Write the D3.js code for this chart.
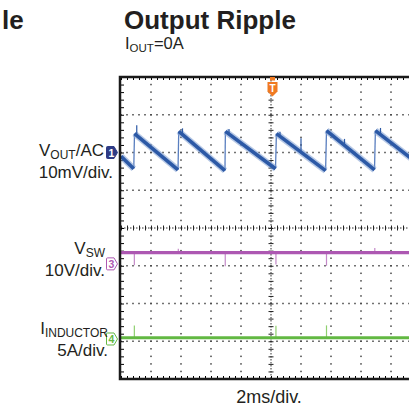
<!DOCTYPE html>
<html>
<head>
<meta charset="utf-8">
<script src="https://cdn.jsdelivr.net/npm/d3@7"></script>
<style>
  body { margin: 0; background: #fff; }
  text { font-family: "Liberation Sans", Arial, sans-serif; fill: #231f20; }
</style>
</head>
<body>
<div id="scope"></div>
<script>
var voutT = [0, 0.85, 0.9, 3.8, 3.85, 6.93, 6.96, 10.3, 10.36, 13.64, 13.7, 16.9, 16.96, 20];
var voutV = [-1.0, -4.3, 5.0, -4.6, 5.6, -4.8, 5.6, -4.3, 5.0, -4.8, 5.8, -4.6, 5.8, -3.6];
// picos de ruido de VOUT (mV)
var voutSpikeT = [1.05, 4.1, 7.2, 10.6, 12.0, 14.9, 17.3];
var voutSpikeV = [7.2, 6.4, 6.2, 5.5, 3.8, 3.6, 6.5];

var vswLevel = 3.0; // V
var vswSpikeT = [0.89, 3.82, 6.95, 10.33, 13.7, 16.92];
var vswSpikeV = [-0.4, 4.0, -0.6, -0.2, -0.5, 4.2];

var ilLevel = 0.15; // A
var ilSpikeT = [0.89, 10.33, 13.7];
var ilSpikeV = [1.8, 1.75, 1.8];

// offset de cada canal en divisiones y escala por division
var canales = [
  { id: "1", offset: 2.0, escala: 10, color: "#2c59a6", relleno: "#2e3b85" },
  { id: "3", offset: -0.95, escala: 10, color: "#ad58b2", relleno: null },
  { id: "4", offset: -2.94, escala: 5, color: "#62b842", relleno: null }
];

var width = 409, height = 407;
var svg = d3.select("#scope").append("svg")
    .attr("width", width)
    .attr("height", height);

// Escalas: 10 divisiones horizontales (se ve hasta ~9.6), 8 verticales
var x = d3.scaleLinear().domain([0, 20]).range([121, 421]);
var yDiv = d3.scaleLinear().domain([-4, 4]).range([379, 77]);

function yCanal(c, v) { return yDiv(c.offset + v / c.escala); }

// Titulos
svg.append("text").attr("x", 2).attr("y", 29)
    .style("font-size", "26px").style("font-weight", "bold").text("le");
svg.append("text").attr("x", 124).attr("y", 29)
    .style("font-size", "26px").style("font-weight", "bold").text("Output Ripple");
var sub = svg.append("text").attr("x", 125).attr("y", 49).style("font-size", "16.5px");
sub.append("tspan").text("I");
sub.append("tspan").attr("dy", 3).style("font-size", "11.5px").text("OUT");
sub.append("tspan").attr("dy", -3).text("=0A");

// Grid punteado
var grid = svg.append("g");
d3.range(1, 10).filter(function (i) { return i !== 5; }).forEach(function (i) {
  grid.selectAll(null)
    .data(d3.range(-4, 4.01, 0.2))
    .enter().append("rect")
    .attr("x", x(i * 2) - 0.75).attr("y", function (d) { return yDiv(d) - 0.75; })
    .attr("width", 1.5).attr("height", 1.5).attr("fill", "#444");
});
[-3, -2, -1, 1, 2, 3].forEach(function (j) {
  grid.selectAll(null)
    .data(d3.range(0, 20.01, 0.4))
    .enter().append("rect")
    .attr("x", function (d) { return x(d) - 0.75; }).attr("y", yDiv(j) - 0.75)
    .attr("width", 1.5).attr("height", 1.5).attr("fill", "#444");
});

// Ejes centrales con marcas
grid.append("line")
    .attr("x1", x(10)).attr("x2", x(10)).attr("y1", yDiv(4)).attr("y2", yDiv(-4))
    .attr("stroke", "#333").attr("stroke-width", 1).attr("stroke-dasharray", "1.5,1.5");
grid.append("line")
    .attr("x1", x(0)).attr("x2", width).attr("y1", yDiv(0)).attr("y2", yDiv(0))
    .attr("stroke", "#333").attr("stroke-width", 1).attr("stroke-dasharray", "1.5,1.5");
grid.append("g").attr("transform", "translate(" + (x(10) - 2.5) + ",0)")
    .call(d3.axisRight(yDiv).tickValues(d3.range(-4, 4.01, 0.2)).tickSize(5).tickFormat(""))
    .call(function (g) { g.select(".domain").remove(); })
    .selectAll("line").attr("stroke", "#222");
grid.append("g").attr("transform", "translate(0," + (yDiv(0) - 2.5) + ")")
    .call(d3.axisBottom(x).tickValues(d3.range(0, 20.01, 0.4)).tickSize(5).tickFormat(""))
    .call(function (g) { g.select(".domain").remove(); })
    .selectAll("line").attr("stroke", "#222");

// Marcas menores en los bordes
svg.append("g").attr("transform", "translate(" + x(0) + ",0)")
    .call(d3.axisRight(yDiv).tickValues(d3.range(-4, 4.01, 0.2)).tickSize(3).tickFormat(""))
    .call(function (g) { g.select(".domain").remove(); });
svg.append("g").attr("transform", "translate(0," + yDiv(-4) + ")")
    .call(d3.axisTop(x).tickValues(d3.range(0, 20.01, 0.4)).tickSize(3).tickFormat(""))
    .call(function (g) { g.select(".domain").remove(); });
svg.append("g").attr("transform", "translate(0," + yDiv(4) + ")")
    .call(d3.axisBottom(x).tickValues(d3.range(0, 20.01, 0.4)).tickSize(3).tickFormat(""))
    .call(function (g) { g.select(".domain").remove(); });

// Clip del area de trazas
svg.append("clipPath").attr("id", "clip")
    .append("rect").attr("x", x(0)).attr("y", yDiv(4)).attr("width", width - x(0)).attr("height", yDiv(-4) - yDiv(4));
var trazas = svg.append("g").attr("clip-path", "url(#clip)");

// VOUT (canal 1): rampas gruesas con ruido, saltos finos
var c1 = canales[0];
var tramos = d3.pairs(d3.range(voutT.length));
var rampas = tramos.filter(function (p) { return voutT[p[1]] - voutT[p[0]] > 0.2; });
var saltos = tramos.filter(function (p) { return voutT[p[1]] - voutT[p[0]] <= 0.2; });
trazas.selectAll(".salto")
    .data(saltos)
    .enter().append("line")
    .attr("class", "salto")
    .attr("x1", function (p) { return x(voutT[p[0]]); })
    .attr("x2", function (p) { return x(voutT[p[1]]); })
    .attr("y1", function (p) { return yCanal(c1, voutV[p[0]]); })
    .attr("y2", function (p) { return yCanal(c1, voutV[p[1]]); })
    .attr("stroke", "#5a7fc0").attr("stroke-width", 1.3);
trazas.selectAll(".rampaHalo")
    .data(rampas)
    .enter().append("line")
    .attr("class", "rampaHalo")
    .attr("x1", function (p) { return x(voutT[p[0]]); })
    .attr("x2", function (p) { return x(voutT[p[1]]); })
    .attr("y1", function (p) { return yCanal(c1, voutV[p[0]]); })
    .attr("y2", function (p) { return yCanal(c1, voutV[p[1]]); })
    .attr("stroke", "#86a3d4").attr("stroke-width", 6.5).attr("stroke-opacity", 0.6);
trazas.selectAll(".rampa")
    .data(rampas)
    .enter().append("line")
    .attr("class", "rampa")
    .attr("x1", function (p) { return x(voutT[p[0]]); })
    .attr("x2", function (p) { return x(voutT[p[1]]); })
    .attr("y1", function (p) { return yCanal(c1, voutV[p[0]]); })
    .attr("y2", function (p) { return yCanal(c1, voutV[p[1]]); })
    .attr("stroke", c1.color).attr("stroke-width", 3.6);
// picos de VOUT: se parte de la rampa interpolada
var rampa = d3.scaleLinear().domain(voutT).range(voutV);
trazas.selectAll(".picoVout")
    .data(voutSpikeT)
    .enter().append("line")
    .attr("class", "picoVout")
    .attr("x1", function (d) { return x(d); }).attr("x2", function (d) { return x(d); })
    .attr("y1", function (d) { return yCanal(c1, rampa(d)); })
    .attr("y2", function (d, i) { return yCanal(c1, voutSpikeV[i]); })
    .attr("stroke", c1.color).attr("stroke-width", 1.2);

// VSW (canal 3)
var c3 = canales[1];
trazas.selectAll(".picoVsw")
    .data(vswSpikeT)
    .enter().append("line")
    .attr("class", "picoVsw")
    .attr("x1", function (d) { return x(d); }).attr("x2", function (d) { return x(d); })
    .attr("y1", yCanal(c3, vswLevel))
    .attr("y2", function (d, i) { return yCanal(c3, vswSpikeV[i]); })
    .attr("stroke", "#c489c8").attr("stroke-width", 1.2);
trazas.append("line")
    .attr("x1", x(0)).attr("x2", x(20))
    .attr("y1", yCanal(c3, vswLevel)).attr("y2", yCanal(c3, vswLevel))
    .attr("stroke", c3.color).attr("stroke-width", 3.2);

// IINDUCTOR (canal 4)
var c4 = canales[2];
trazas.selectAll(".picoIl")
    .data(ilSpikeT)
    .enter().append("line")
    .attr("class", "picoIl")
    .attr("x1", function (d) { return x(d); }).attr("x2", function (d) { return x(d); })
    .attr("y1", yCanal(c4, ilLevel))
    .attr("y2", function (d, i) { return yCanal(c4, ilSpikeV[i]); })
    .attr("stroke", "#8fd06f").attr("stroke-width", 1.2);
trazas.append("line")
    .attr("x1", x(0)).attr("x2", x(20))
    .attr("y1", yCanal(c4, ilLevel)).attr("y2", yCanal(c4, ilLevel))
    .attr("stroke", c4.color).attr("stroke-width", 3);

// Borde
svg.append("path")
    .attr("d", "M" + width + "," + yDiv(4) + "H" + (x(0) - 1) + "V" + yDiv(-4) + "H" + width)
    .attr("fill", "none").attr("stroke", "#1a1a1a").attr("stroke-width", 2.5);

// Marcadores de canal
canales.forEach(function (c) {
  var yc = yDiv(c.offset);
  var g = svg.append("g").attr("transform", "translate(106.5," + yc + ")");
  g.append("path")
      .attr("d", "M1,-6H7.5L11,0L7.5,6H1Q0,6 0,5V-5Q0,-6 1,-6Z")
      .attr("fill", c.relleno || "#fff")
      .attr("stroke", c.relleno || c.color).attr("stroke-width", 1);
  g.append("text").attr("x", 4.8).attr("y", 4)
      .attr("text-anchor", "middle")
      .style("font-size", "10.5px").style("font-weight", "bold")
      .style("fill", c.relleno ? "#fff" : c.color)
      .text(c.id);
});

// Marcador de disparo (T)
var tg = svg.append("g").attr("transform", "translate(" + (x(10) + 1.5) + ",0)");
tg.append("rect").attr("x", -2.5).attr("y", 77).attr("width", 5).attr("height", 3.5).attr("fill", "#f07a22");
tg.append("path")
    .attr("d", "M-5,82H5V91.5L0,96.5L-5,91.5Z")
    .attr("fill", "#f07a22");
tg.append("text").attr("y", 92).attr("text-anchor", "middle")
    .style("font-size", "10px").style("font-weight", "bold").style("fill", "#fff").text("T");

// Etiquetas de canal
function etiqueta(xr, y, base, subtxt, resto) {
  var t = svg.append("text").attr("x", xr).attr("y", y)
      .attr("text-anchor", "end").style("font-size", "17px");
  t.append("tspan").text(base);
  t.append("tspan").attr("dy", 3).style("font-size", "12px").text(subtxt);
  if (resto) t.append("tspan").attr("dy", -3).text(resto);
}
function escalaTxt(xr, y, txt) {
  svg.append("text").attr("x", xr).attr("y", y).attr("text-anchor", "end")
      .style("font-size", "17px").text(txt);
}
etiqueta(104, 156, "V", "OUT", "/AC");
escalaTxt(113, 178, "10mV/div.");
etiqueta(105, 254, "V", "SW", null);
escalaTxt(105, 276, "10V/div.");
etiqueta(108, 334, "I", "INDUCTOR", null);
escalaTxt(108, 356, "5A/div.");

svg.append("text").attr("x", x(10) - 2).attr("y", 403).attr("text-anchor", "middle")
    .style("font-size", "18px").text("2ms/div.");
</script>
</body>
</html>
